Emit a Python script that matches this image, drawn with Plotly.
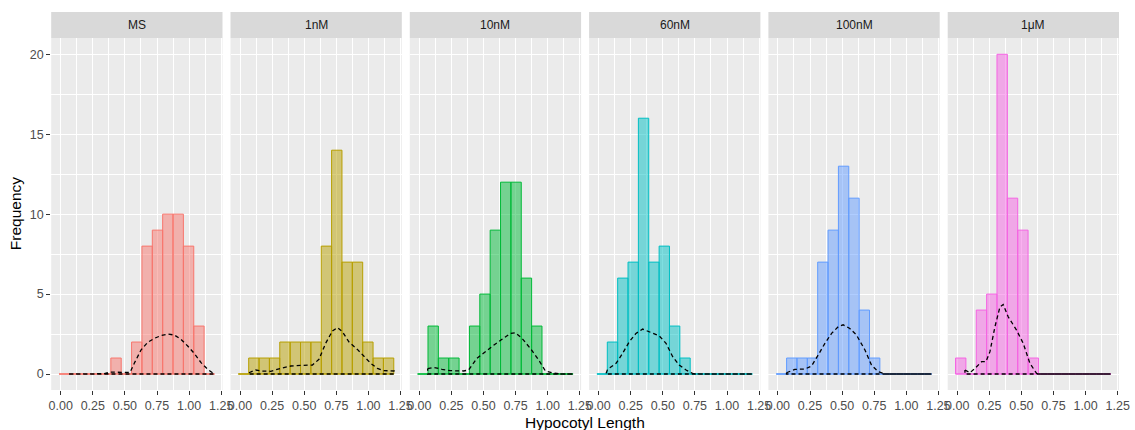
import plotly.graph_objects as go

# ---------------- data ----------------
panels = ["MS", "1nM", "10nM", "60nM", "100nM", "1μM"]
colors = ["#F8766D", "#B79F00", "#00BA38", "#00BFC4", "#619CFF", "#F564E3"]

bin_start = -0.013
bin_width = 0.0807
n_bins = 15

counts_ms = [0, 0, 0, 0, 0, 1, 0, 2, 8, 9, 10, 10, 8, 3, 0]
counts_1nm = [0, 1, 1, 1, 2, 2, 2, 2, 8, 14, 7, 7, 2, 1, 1]
counts_10nm = [0, 3, 1, 1, 0, 3, 5, 9, 12, 12, 6, 3, 0, 0, 0]
counts_60nm = [0, 2, 6, 7, 16, 7, 8, 3, 1, 0, 0, 0, 0, 0, 0]
counts_100nm = [0, 1, 1, 1, 7, 9, 13, 11, 4, 1, 0, 0, 0, 0, 0]
counts_1um = [1, 0, 4, 5, 20, 11, 9, 1, 0, 0, 0, 0, 0, 0, 0]

dens_x_ms = [0.065, 0.34, 0.38, 0.45, 0.51, 0.54, 0.573, 0.625, 0.677, 0.729, 0.781, 0.833, 0.885, 0.937, 0.989, 1.04, 1.093, 1.145, 1.196]
dens_y_ms = [0.0, 0.02, 0.12, 0.12, 0.08, 0.1, 0.67, 1.5, 1.98, 2.23, 2.4, 2.5, 2.44, 2.17, 1.75, 1.29, 0.71, 0.29, 0.0]

dens_x_1nm = [0.07, 0.122, 0.161, 0.239, 0.317, 0.395, 0.473, 0.564, 0.615, 0.667, 0.72, 0.758, 0.797, 0.849, 0.914, 0.966, 1.018, 1.07, 1.121, 1.2]
dens_y_1nm = [0.08, 0.25, 0.19, 0.17, 0.35, 0.5, 0.54, 0.56, 0.92, 1.92, 2.7, 2.9, 2.65, 2.0, 1.54, 1.08, 0.67, 0.35, 0.21, 0.19]

dens_x_10nm = [0.065, 0.111, 0.177, 0.241, 0.345, 0.384, 0.449, 0.514, 0.579, 0.644, 0.709, 0.748, 0.8, 0.865, 0.93, 0.982, 1.034, 1.098, 1.2]
dens_y_10nm = [0.33, 0.42, 0.29, 0.21, 0.19, 0.25, 0.98, 1.4, 1.8, 2.17, 2.54, 2.58, 2.23, 1.6, 0.875, 0.19, 0.08, 0.0, 0.0]

dens_x_60nm = [0.058, 0.07, 0.136, 0.187, 0.239, 0.291, 0.343, 0.395, 0.473, 0.525, 0.577, 0.628, 0.681, 0.732, 0.784, 1.2]
dens_y_60nm = [0.04, 0.29, 0.67, 1.29, 2.02, 2.54, 2.81, 2.65, 2.38, 1.92, 1.08, 0.56, 0.25, 0.04, 0.0, 0.0]

dens_x_100nm = [0.067, 0.132, 0.21, 0.262, 0.314, 0.366, 0.418, 0.47, 0.508, 0.56, 0.612, 0.678, 0.729, 0.781, 0.833, 1.196]
dens_y_100nm = [0.08, 0.29, 0.31, 0.5, 1.19, 1.92, 2.54, 2.96, 3.08, 2.85, 2.44, 1.5, 0.56, 0.15, 0.0, 0.0]

dens_x_1um = [0.06, 0.099, 0.138, 0.19, 0.224, 0.255, 0.294, 0.333, 0.358, 0.397, 0.462, 0.514, 0.566, 0.618, 0.644, 1.195]
dens_y_1um = [0.25, 0.08, 0.35, 0.77, 0.77, 1.4, 2.96, 4.2, 4.35, 3.58, 2.75, 1.92, 0.67, 0.04, 0.0, 0.0]

all_counts = [counts_ms, counts_1nm, counts_10nm, counts_60nm, counts_100nm, counts_1um]
all_dx = [dens_x_ms, dens_x_1nm, dens_x_10nm, dens_x_60nm, dens_x_100nm, dens_x_1um]
all_dy = [dens_y_ms, dens_y_1nm, dens_y_10nm, dens_y_60nm, dens_y_100nm, dens_y_1um]

x_ticks = [0, 0.25, 0.5, 0.75, 1.0, 1.25]
y_ticks = [0, 5, 10, 15, 20]

# ---------------- layout geometry ----------------
W, H = 1135, 430
panel_left0 = 51.2
panel_step = 179.3
panel_w = 171.3
panel_top, panel_bottom = 38.3, 390.0
strip_top = 12.0


def hex_rgba(h, a):
    h = h.lstrip("#")
    return "rgba(%d,%d,%d,%.2f)" % (int(h[0:2], 16), int(h[2:4], 16), int(h[4:6], 16), a)


fig = go.Figure()
layout = dict(
    template="none",
    width=W, height=H, autosize=False,
    margin=dict(l=0, r=0, t=0, b=0, pad=0),
    paper_bgcolor="white", plot_bgcolor="#EBEBEB",
    showlegend=False, barmode="overlay",
    font=dict(family="Liberation Sans, Arial, sans-serif", color="#4D4D4D", size=12),
    shapes=[], annotations=[],
)

ydom = [(H - panel_bottom) / H, (H - panel_top) / H]
edges = [bin_start + i * bin_width for i in range(n_bins + 1)]
centers = [bin_start + (i + 0.5) * bin_width for i in range(n_bins)]

for i, name in enumerate(panels):
    k = "" if i == 0 else str(i + 1)
    xa, ya = "x" + k, "y" + k
    x0 = (panel_left0 + i * panel_step) / W
    x1 = (panel_left0 + i * panel_step + panel_w) / W
    col = colors[i]

    # zero-count baseline of the histogram
    fig.add_trace(go.Scatter(x=[edges[0], edges[-1]], y=[0, 0], mode="lines",
                             line=dict(color=col, width=1), xaxis=xa, yaxis=ya,
                             hoverinfo="skip"))
    # histogram bars
    fig.add_trace(go.Bar(x=centers, y=all_counts[i], width=bin_width,
                         marker=dict(color=hex_rgba(col, 0.5),
                                     line=dict(color=col, width=1)),
                         xaxis=xa, yaxis=ya))
    # density polygon (dashed)
    dx, dy = all_dx[i], all_dy[i]
    px = dx + [dx[-1], dx[0], dx[0]]
    py = dy + [0, 0, dy[0]]
    fig.add_trace(go.Scatter(x=px, y=py, mode="lines",
                             line=dict(color="black", width=1.3, dash="4px,3px"),
                             xaxis=xa, yaxis=ya, hoverinfo="skip"))

    layout["xaxis" + k] = dict(
        domain=[x0, x1], anchor=ya, range=[-0.074, 1.26], automargin=False,
        tickvals=x_ticks, ticktext=["%.2f" % v for v in x_ticks],
        ticks="outside", ticklen=4, tickcolor="#333333", tickwidth=1,
        showgrid=True, gridcolor="white", gridwidth=1.1, zeroline=False,
        showline=False, tickfont=dict(size=12.5, color="#4D4D4D"),
        minor=dict(tickvals=[0.125, 0.375, 0.625, 0.875, 1.125], showgrid=True,
                   gridcolor="white", gridwidth=0.5, ticks=""),
        fixedrange=True,
    )
    layout["yaxis" + k] = dict(
        domain=ydom, anchor=xa, range=[-1, 21], automargin=False,
        tickvals=y_ticks, showticklabels=(i == 0),
        ticks="outside" if i == 0 else "", ticklen=4, tickcolor="#333333", tickwidth=1,
        showgrid=True, gridcolor="white", gridwidth=1.1, zeroline=False,
        showline=False, tickfont=dict(size=12.5, color="#4D4D4D"),
        minor=dict(tickvals=[2.5, 7.5, 12.5, 17.5], showgrid=True,
                   gridcolor="white", gridwidth=0.5, ticks=""),
        fixedrange=True,
    )
    # strip
    layout["shapes"].append(dict(type="rect", xref="paper", yref="paper",
                                 x0=x0, x1=x1, y0=(H - panel_top) / H, y1=(H - strip_top) / H,
                                 fillcolor="#D9D9D9", line=dict(width=0), layer="below"))
    layout["annotations"].append(dict(text=name, xref="paper", yref="paper",
                                      x=(x0 + x1) / 2, y=(H - (panel_top + strip_top) / 2) / H,
                                      showarrow=False, xanchor="center", yanchor="middle",
                                      font=dict(size=12, color="#1A1A1A")))

layout["annotations"].append(dict(text="Hypocotyl Length", xref="paper", yref="paper",
                                  x=(panel_left0 + (panel_left0 + 5 * panel_step + panel_w)) / 2 / W,
                                  y=(H - 422) / H, showarrow=False, xanchor="center", yanchor="middle",
                                  font=dict(size=15.5, color="black")))
layout["annotations"].append(dict(text="Frequency", xref="paper", yref="paper",
                                  x=15 / W, y=(H - (panel_top + panel_bottom) / 2) / H,
                                  showarrow=False, textangle=-90, xanchor="center", yanchor="middle",
                                  font=dict(size=15.5, color="black")))

fig.update_layout(**layout)
fig.write_html("out.html")
